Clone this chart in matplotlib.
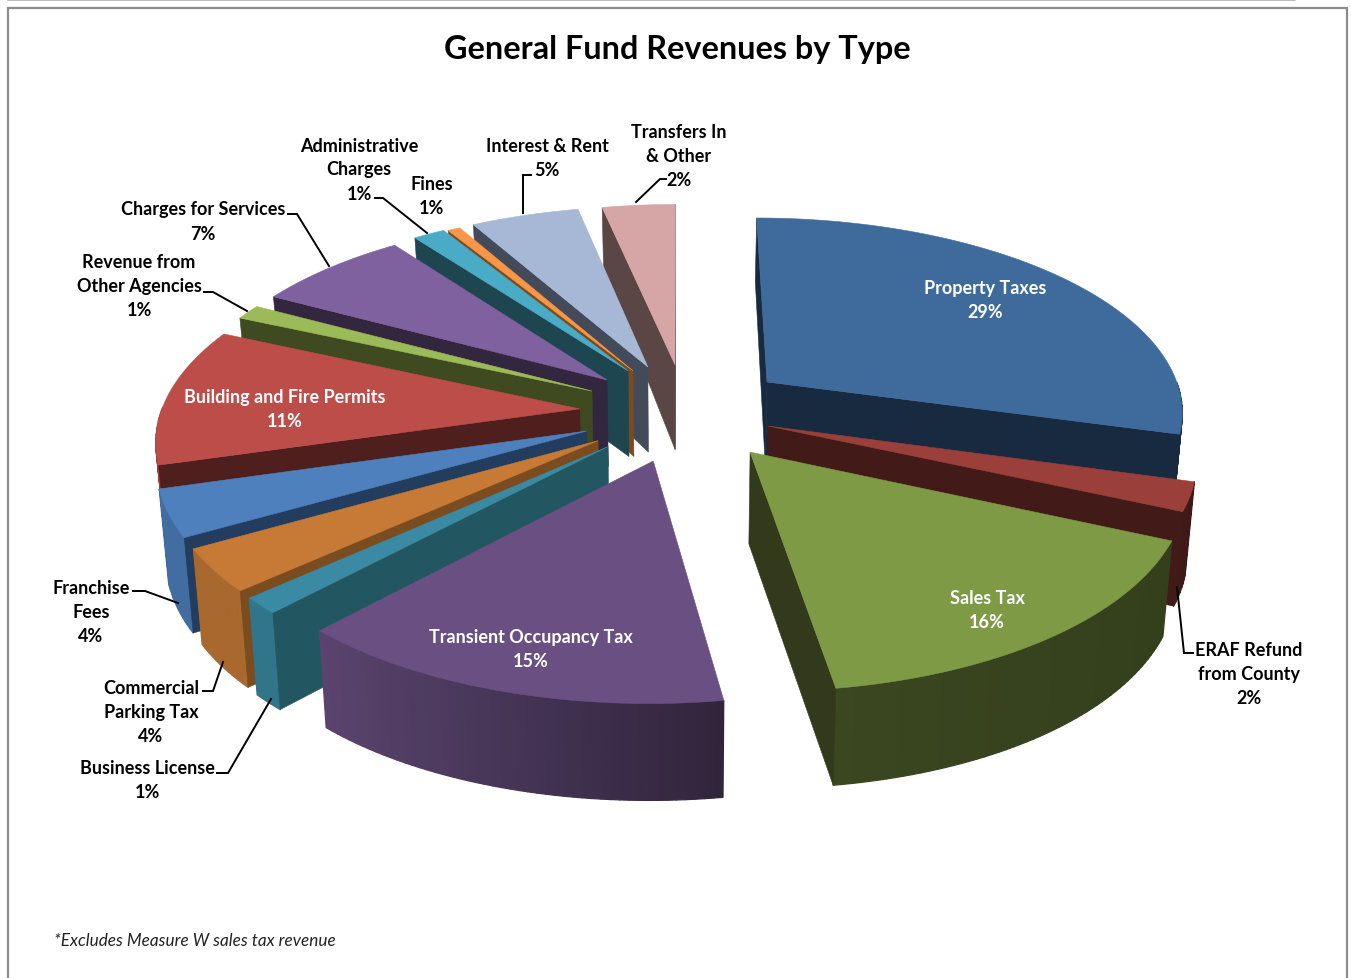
import numpy as np
import matplotlib
matplotlib.use("Agg")
import matplotlib.pyplot as plt
from matplotlib.patches import Polygon
from matplotlib.collections import PolyCollection
from matplotlib.colors import to_rgb

# ---- data (clockwise from 12 o'clock), shares estimated from the drawn slices
categories = ["Property Taxes", "ERAF Refund from County", "Sales Tax", "Transient Occupancy Tax",
              "Business License", "Commercial Parking Tax", "Franchise Fees", "Building and Fire Permits",
              "Revenue from Other Agencies", "Charges for Services", "Administrative Charges", "Fines",
              "Interest & Rent", "Transfers In & Other"]
shares = [29.6, 2.4, 15.8, 13.9, 1.3, 3.5, 3.9, 11.7, 1.25, 7.0, 1.4, 0.55, 4.7, 3.15]
explode_x = [0.206, 0.202, 0.158, -0.06, -0.163, -0.186, -0.213, -0.233, -0.207, -0.173, -0.124, -0.112, -0.077, -0.012]
explode_y = [0.134, -0.099, -0.23, -0.274, -0.203, -0.173, -0.124, -0.01, 0.085, 0.145, 0.195, 0.195, 0.217, 0.23]
top_colors = ["#3f6a9c", "#9b3f3b", "#7f9a45", "#6a5082", "#3a8aa3", "#c67a36", "#4d80bc",
              "#bd4d49", "#9bba58", "#7f61a0", "#4aabc6", "#f79646", "#a7b7d6", "#d6a5a5"]
face_colors = ["#172a40", "#421a17", "#323a1b", "#30233d", "#225660", "#7b4c20", "#233d5e",
               "#4f1f1e", "#404a21", "#33263f", "#1d4650", "#7a4a20", "#434b5a", "#5a4644"]

labels = [
    ("Property Taxes\n29%", 985, 301, "white"),
    ("ERAF Refund\nfrom County\n2%", 1249, 675, "black"),
    ("Sales Tax\n16%", 987, 611, "white"),
    ("Transient Occupancy Tax\n15%", 531, 650, "white"),
    ("Business License\n1%", 147, 781, "black"),
    ("Commercial\nParking Tax\n4%", 151, 713, "black"),
    ("Franchise\nFees\n4%", 91, 613, "black"),
    ("Building and Fire Permits\n11%", 285, 410, "white"),
    ("Revenue from\nOther Agencies\n1%", 139, 287, "black"),
    ("Charges for Services\n7%", 203, 222, "black"),
    ("Administrative\nCharges\n1%", 359, 170, "black"),
    ("Fines\n1%", 432, 197, "black"),
    ("Interest & Rent\n5%", 547, 158, "black"),
    ("Transfers In\n& Other\n2%", 679, 157, "black"),
]
leaders = [
    [(636, 203), (660, 180), (666, 180)],
    [(523, 214), (523, 176), (531, 176)],
    [(375, 199), (383, 199), (427, 234)],
    [(288, 215), (297, 215), (329, 267)],
    [(204, 293), (213, 293), (247, 312)],
    [(133, 592), (145, 592), (178, 604)],
    [(203, 692), (213, 692), (223, 663)],
    [(217, 774), (228, 774), (271, 700)],
    [(1193, 654), (1184, 654), (1177, 588)],
]

# ---- projection of the tilted pie onto the canvas
CX, CY, R, A, P = 680, 408, 430, 190, 0.135
FONT = "Lato"


def project(x, y, z=0.0):
    x, y = np.asarray(x, float), np.asarray(y, float)
    w = 1 + P * y
    depth = 88.7 - 14.7 * y - 6.47 * y ** 2
    return CX + x * R / w * (1 - 0.018 * z), CY - A * y / w + z * depth


def shade(rgb, f):
    return tuple(np.clip(np.array(rgb) * f, 0, 1))


fig = plt.figure(figsize=(13.51, 9.79), dpi=100)
ax = fig.add_axes([0, 0, 1, 1])
ax.set_xlim(0, 1351)
ax.set_ylim(979, 0)
ax.axis("off")

# frames
ax.plot([8, 8, 1347, 1347], [979, 9, 9, 979], color="#8c8c8c", lw=1.6, solid_joinstyle="miter", zorder=1)
ax.plot([8, 1295, 1295], [1, 1, 0], color="#b0b0b0", lw=1.2, zorder=1)

edges = np.cumsum([0] + shares) / sum(shares) * 360
starts = 90 - edges[:-1]
ends = 90 - edges[1:]
mids = np.radians((starts + ends) / 2)
order = np.argsort(-np.sin(mids))

z = 10
for i in order:
    n = max(6, int((starts[i] - ends[i]) * 1.0))
    th = np.radians(np.linspace(starts[i], ends[i], n))
    tx, ty = explode_x[i], explode_y[i]
    s = 1.015 - 0.045 * np.cos(th) ** 2
    rx, ry = tx + s * np.cos(th), ty + s * np.sin(th)
    face = face_colors[i]
    top = to_rgb(top_colors[i])
    # outer rim, only the part facing the viewer, shaded segment by segment
    a, b = project(rx, ry, 0), project(rx, ry, 1)
    quads, cols = [], []
    for j in range(n - 1):
        mid = (th[j] + th[j + 1]) / 2
        if np.sin(mid) > 0:
            continue
        quads.append([(a[0][j], a[1][j]), (a[0][j + 1], a[1][j + 1]),
                      (b[0][j + 1], b[1][j + 1]), (b[0][j], b[1][j])])
        t = (np.cos(mid) + 1) / 2
        f = np.interp(t, [0, 0.17, 0.57, 1], [0.85, 0.85, 0.46, 0.40])
        cols.append(shade(top, f))
    if quads:
        ax.add_collection(PolyCollection(quads, facecolors=cols, edgecolors=cols, linewidths=0.9, zorder=z))
    z += 1
    # radial faces that look towards the viewer
    visible = [np.cos(th[0]) < 0.01, np.cos(th[-1]) > -0.01]
    for k, show in zip((0, -1), visible):
        if not show:
            continue
        xs = np.array([tx, rx[k]])
        ys = np.array([ty, ry[k]])
        a, b = project(xs, ys, 0), project(xs, ys, 1)
        pts = np.column_stack([np.r_[a[0], b[0][::-1]], np.r_[a[1], b[1][::-1]]])
        ax.add_patch(Polygon(pts, closed=True, fc=face, ec=face, lw=0.4, zorder=z))
        z += 1
    # top surface
    px, py = project(np.r_[tx, rx], np.r_[ty, ry], 0)
    ax.add_patch(Polygon(np.column_stack([px, py]), closed=True, fc=top, ec=top, lw=0.4, zorder=z))
    z += 1

for pts in leaders:
    xs, ys = zip(*pts)
    ax.plot(xs, ys, color="black", lw=1.4, zorder=z, solid_joinstyle="miter")
z += 1

for text, x, y, col in labels:
    ax.text(x, y, text, color=col, ha="center", va="center", fontsize=13.0, fontweight="bold",
            family=FONT, linespacing=1.5, zorder=z)

ax.text(677, 49, "General Fund Revenues by Type", ha="center", va="center", fontsize=23.3,
        fontweight="bold", family=FONT, color="black", zorder=z)
ax.text(54, 941, "*Excludes Measure W sales tax revenue", ha="left", va="center", fontsize=12.3,
        style="italic", family=FONT, color="#222222", zorder=z)

fig.savefig("out.png", dpi=100)
